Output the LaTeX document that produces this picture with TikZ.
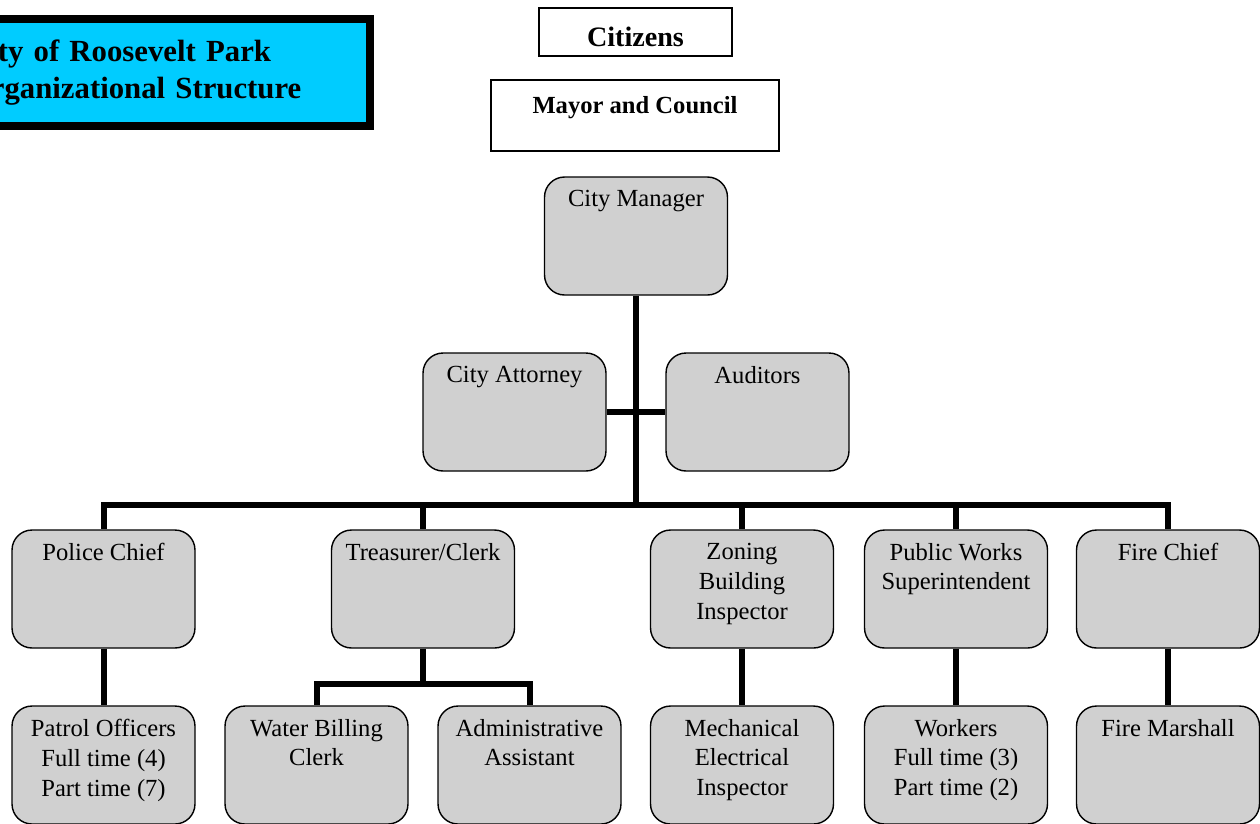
\documentclass[tikz,border=0pt]{standalone}
\usepackage{fontspec}
\setmainfont{Liberation Serif}
\usepackage{tikz}

\definecolor{titlecyan}{HTML}{00CCFF}
\definecolor{boxgray}{HTML}{D0D0D0}

% text at the top of a gray box
\newcommand{\boxtop}[1]{\parbox[t][1.84cm][t]{3.5cm}{\centering\fontsize{14}{17}\selectfont #1}}

\begin{document}
\begin{tikzpicture}
  [x=0.02cm,y=-0.02cm,
   gbox/.style={draw=black,line width=0.8pt,fill=boxgray,rounded corners=0.4cm,
     inner xsep=0pt,inner ysep=0.26cm,minimum width=3.66cm,minimum height=2.36cm},
   wbox/.style={draw=black,line width=0.8pt,fill=white,inner sep=0pt,font=\bfseries},
   conn/.style={line width=0.12cm}]

  \clip (0,0) rectangle (1260,823);

  %%%%%%%%%%%%%%%%%%%%%% TITLE %%%%%%%%%%%%%%%%%%%%%%
  \node[draw=black,line width=0.16cm,fill=titlecyan,inner ysep=0pt,inner xsep=0.94cm,
    text width=7.12cm,minimum height=2.14cm,align=left,font=\bfseries\fontsize{17.5}{21}\selectfont]
    (title) at (145,72.5) {City of Roosevelt Park\\Organizational Structure};

  \node[wbox,minimum width=3.86cm,minimum height=0.96cm,text height=0.56cm,text depth=0pt,
    font=\bfseries\fontsize{16}{19}\selectfont]
    (citizens) at (635.5,32) {Citizens};
  \node[wbox,minimum width=5.76cm,minimum height=1.42cm,inner ysep=0.33cm]
    (mayor) at (635,115.5) {\parbox[t][0.76cm][t]{5.5cm}{\centering\fontsize{14}{17}\selectfont\bfseries Mayor and Council}};

  %%%%%%%%%%%%%%%%%%%%%% ROW 1 %%%%%%%%%%%%%%%%%%%%%%
  \node[gbox] (box_cm)  at (636,236)   {\boxtop{City Manager}};
  \node[gbox] (box_att) at (514.5,412) {\boxtop{City Attorney}};
  \node[gbox] (box_aud) at (757.5,412) {\boxtop{Auditors}};

  %%%%%%%%%%%%%%%%%%%%%% ROW 2 %%%%%%%%%%%%%%%%%%%%%%
  \node[gbox] (box_pc) at (103.5,589) {\boxtop{Police Chief}};
  \node[gbox] (box_tc) at (423,589)   {\boxtop{Treasurer/Clerk}};
  \node[gbox] (box_zb) at (742,589)   {\boxtop{Zoning\\Building\\Inspector}};
  \node[gbox] (box_pw) at (956,589)   {\boxtop{Public Works\\Superintendent}};
  \node[gbox] (box_fc) at (1168,589)  {\boxtop{Fire Chief}};

  %%%%%%%%%%%%%%%%%%%%%% ROW 3 %%%%%%%%%%%%%%%%%%%%%%
  \node[gbox] (box_po) at (103.5,765) {\boxtop{Patrol Officers\\Full time (4)\\Part time (7)}};
  \node[gbox] (box_wb) at (316.5,765) {\boxtop{Water Billing\\Clerk}};
  \node[gbox] (box_aa) at (529.5,765) {\boxtop{Administrative\\Assistant}};
  \node[gbox] (box_me) at (742,765)   {\boxtop{Mechanical\\Electrical\\Inspector}};
  \node[gbox] (box_wk) at (956,765)   {\boxtop{Workers\\Full time (3)\\Part time (2)}};
  \node[gbox] (box_fm) at (1168,765)  {\boxtop{Fire Marshall}};

  \coordinate (bus)   at (636,505);
  \coordinate (tcbus) at (423,684);

  \draw[conn] (box_cm) -- (bus);
  \draw[conn] (box_att) -- (box_aud);

  \foreach \tohead in {box_pc,box_tc,box_zb,box_pw,box_fc}
    \draw[conn] (bus) -| (\tohead.north);

  \foreach \fromhead/\tostaff in {box_pc/box_po,box_zb/box_me,box_pw/box_wk,box_fc/box_fm}
    \draw[conn] (\fromhead) -- (\tostaff);

  \draw[conn] (box_tc) -- (tcbus);
  \foreach \tostaff in {box_wb,box_aa}
    \draw[conn] (tcbus) -| (\tostaff.north);

\end{tikzpicture}
\end{document}
